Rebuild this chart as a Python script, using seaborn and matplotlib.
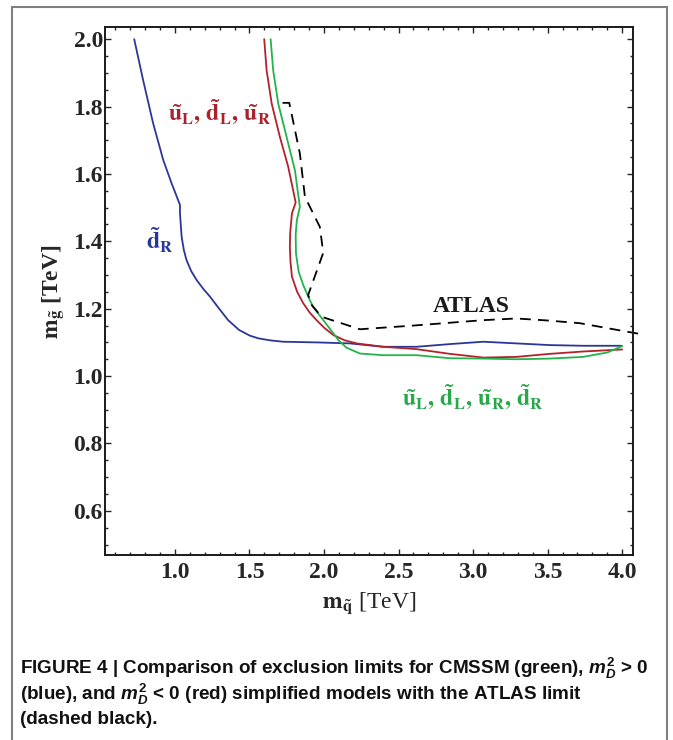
import numpy as np
import pandas as pd
import matplotlib
matplotlib.use("Agg")
import matplotlib.pyplot as plt
from matplotlib.patches import Rectangle
from matplotlib.ticker import MultipleLocator
import seaborn as sns

# exclusion contours (squark mass, gluino mass) in TeV
blue_x = [0.727, 0.787, 0.854, 0.922, 0.978, 1.034, 1.034, 1.045, 1.060, 1.078, 1.110, 1.146,
          1.190, 1.235, 1.295, 1.357, 1.430, 1.503, 1.560, 1.640, 1.726, 1.95, 2.174, 2.397,
          2.621, 2.844, 3.068, 3.292, 3.515, 3.738, 3.996]
blue_y = [2.0, 1.878, 1.750, 1.641, 1.572, 1.508, 1.483, 1.414, 1.374, 1.344, 1.311, 1.285,
          1.259, 1.236, 1.201, 1.166, 1.137, 1.120, 1.112, 1.106, 1.102, 1.100, 1.097, 1.087,
          1.087, 1.095, 1.102, 1.097, 1.092, 1.090, 1.090]

red_x = [1.599, 1.615, 1.649, 1.704, 1.760, 1.810, 1.785, 1.773, 1.771, 1.775, 1.785, 1.820,
         1.861, 1.905, 1.950, 2.005, 2.062, 2.140, 2.219, 2.397, 2.621, 2.844, 3.068, 3.290,
         3.515, 3.738, 4.0]
red_y = [2.0, 1.908, 1.809, 1.710, 1.621, 1.515, 1.483, 1.424, 1.384, 1.340, 1.295, 1.250,
         1.216, 1.188, 1.166, 1.142, 1.122, 1.106, 1.097, 1.087, 1.080, 1.066, 1.055, 1.057,
         1.066, 1.073, 1.079]

green_x = [1.642, 1.659, 1.693, 1.749, 1.805, 1.838, 1.818, 1.810, 1.812, 1.830, 1.861, 1.900,
           1.928, 1.980, 2.040, 2.100, 2.152, 2.241, 2.397, 2.621, 2.844, 3.068, 3.290, 3.515,
           3.738, 3.900, 4.0]
green_y = [2.0, 1.908, 1.809, 1.710, 1.611, 1.502, 1.463, 1.420, 1.364, 1.310, 1.270, 1.230,
           1.205, 1.175, 1.140, 1.105, 1.084, 1.067, 1.062, 1.062, 1.053, 1.052, 1.050, 1.052,
           1.057, 1.070, 1.089]

atlas_x = [1.722, 1.767, 1.838, 1.872, 1.972, 1.995, 1.894, 1.917, 1.984, 2.241, 2.6, 3.068,
           3.29, 3.5, 3.716, 4.03, 4.12]
atlas_y = [1.811, 1.811, 1.661, 1.532, 1.443, 1.366, 1.241, 1.211, 1.176, 1.139, 1.150, 1.166,
           1.171, 1.165, 1.157, 1.132, 1.125]

caption = [
    r"FIGURE 4 | Comparison of exclusion limits for CMSSM (green), $m_D^\mathbf{2}$ > 0",
    r"(blue), and $m_D^\mathbf{2}$ < 0 (red) simplified models with the ATLAS limit",
    "(dashed black).",
]

sns.set_style("ticks")
plt.rcParams["font.family"] = ["Liberation Serif", "DejaVu Serif"]
# custom math fonts are used for the sans caption, stix for the serif plot labels
plt.rcParams["mathtext.fontset"] = "custom"
plt.rcParams["mathtext.rm"] = "Liberation Sans:bold"
plt.rcParams["mathtext.bf"] = "Liberation Sans:bold"
plt.rcParams["mathtext.it"] = "Liberation Sans:italic:bold"

fig = plt.figure(figsize=(6.73, 7.40), dpi=100)
ax = fig.add_axes([0.156, 0.25, 0.784, 0.713])

blue, red, green = "#2b3796", "#b3212b", "#23b24c"
sns.lineplot(x=blue_x, y=blue_y, sort=False, estimator=None, color=blue, lw=1.3, ax=ax)
sns.lineplot(x=red_x, y=red_y, sort=False, estimator=None, color=red, lw=1.3, ax=ax)
sns.lineplot(x=green_x, y=green_y, sort=False, estimator=None, color=green, lw=1.3, ax=ax)
sns.lineplot(x=atlas_x, y=atlas_y, sort=False, estimator=None, color="black", lw=1.3, ax=ax)
ax.lines[-1].set_linestyle((0, (6, 4)))
ax.lines[-1].set_clip_on(False)

ax.set_xlim(0.531, 4.07)
ax.set_ylim(0.469, 2.035)
ax.xaxis.set_major_locator(MultipleLocator(0.5))
ax.xaxis.set_minor_locator(MultipleLocator(0.1))
ax.yaxis.set_major_locator(MultipleLocator(0.2))
ax.yaxis.set_minor_locator(MultipleLocator(0.05))
ax.set_xticks([1.0, 1.5, 2.0, 2.5, 3.0, 3.5, 4.0])
ax.set_yticks([0.6, 0.8, 1.0, 1.2, 1.4, 1.6, 1.8, 2.0])
ax.tick_params(which="both", direction="in", top=True, right=True, width=1.0)
ax.tick_params(which="major", length=4, labelsize=17)
ax.tick_params(axis="x", which="major", pad=5)
ax.tick_params(axis="y", which="major", pad=1.5)
ax.tick_params(which="minor", length=2)
for lab in ax.get_xticklabels() + ax.get_yticklabels():
    lab.set_fontweight("bold")
for sp in ax.spines.values():
    sp.set_linewidth(1.4)
    sp.set_color("#1a1a1a")

ax.set_xlabel(r"$\mathbf{m}_{\mathbf{\tilde{q}}}$ [TeV]", fontsize=17, labelpad=5,
              math_fontfamily="stix")
ax.set_ylabel(r"$\mathbf{m}_{\mathbf{\tilde{g}}}$ [TeV]", fontsize=17, fontweight="bold",
              labelpad=5, math_fontfamily="stix")

ax.text(1.30, 1.784, r"$\mathbf{\tilde{u}_L,\, \tilde{d}_L,\, \tilde{u}_R}$",
        color="#a8232b", fontsize=17, ha="center", va="center", math_fontfamily="stix")
ax.text(0.90, 1.404, r"$\mathbf{\tilde{d}_R}$", color=blue, fontsize=17,
        ha="center", va="center", math_fontfamily="stix")
ax.text(2.99, 1.208, "ATLAS", color="#1a1a1a", fontsize=17, fontweight="bold",
        ha="center", va="center")
ax.text(3.0, 0.938, r"$\mathbf{\tilde{u}_L,\, \tilde{d}_L,\, \tilde{u}_R,\, \tilde{d}_R}$",
        color="#27a84a", fontsize=17, ha="center", va="center", math_fontfamily="stix")

for i, line in enumerate(caption):
    fig.text(0.030, 1 - (668 + 26 * i) / 740, line, fontsize=13.6, fontweight="bold",
             family=["Liberation Sans Narrow", "Liberation Sans"], math_fontfamily="custom",
             va="center", ha="left", color="#111111")

fig.patches.append(Rectangle((0.0172, -0.01), 0.974, 1.0, transform=fig.transFigure,
                             fill=False, edgecolor="#808080", lw=1.5))

fig.savefig("out.png", dpi=100)
